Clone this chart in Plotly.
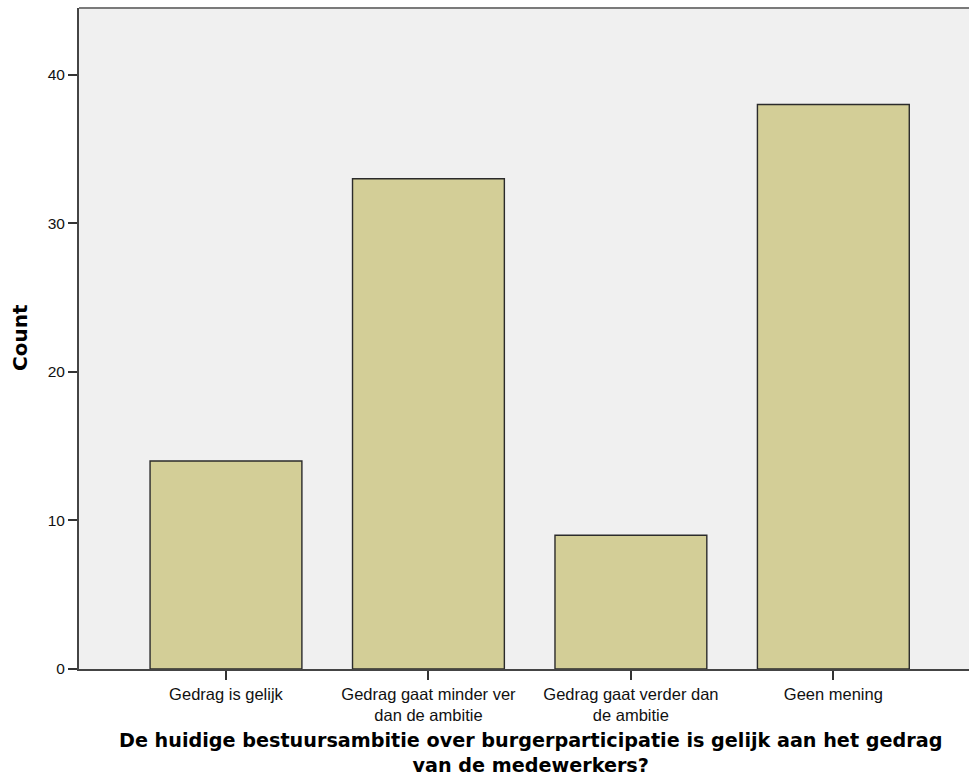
import plotly.graph_objects as go

categories = [
    "Gedrag is gelijk",
    "Gedrag gaat minder ver<br>dan de ambitie",
    "Gedrag gaat verder dan<br>de ambitie",
    "Geen mening",
]
counts = [14, 33, 9, 38]
y_ticks = [0, 10, 20, 30, 40]

y_title = "Count"
x_title_lines = [
    "De huidige bestuursambitie over burgerparticipatie is gelijk aan het gedrag",
    "van de medewerkers?",
]

W, H = 969, 780
M_L, M_R, M_T, M_B = 79, 0, 8, 111
plot_w = W - M_L - M_R
plot_h = H - M_T - M_B


def px_to_paper_x(px):
    return (px - M_L) / plot_w


def px_to_paper_y(py):
    return (H - M_B - py) / plot_h


annotations = [
    dict(text="<b>" + "<br>".join(x_title_lines) + "</b>", xref="paper", yref="paper",
         x=px_to_paper_x(530), y=px_to_paper_y(728),
         xanchor="center", yanchor="top", showarrow=False, align="center",
         borderpad=0,
         font=dict(family="DejaVu Sans, Verdana, sans-serif", size=19.2, color="#000")),
    dict(text="<b>" + y_title + "</b>", xref="paper", yref="paper",
         x=px_to_paper_x(20), y=px_to_paper_y(337),
         xanchor="center", yanchor="middle", showarrow=False, textangle=-90,
         font=dict(family="DejaVu Sans, Verdana, sans-serif", size=20, color="#000")),
]

fig = go.Figure(
    go.Bar(
        x=list(range(len(categories))),
        y=counts,
        width=0.75,
        marker=dict(color="#D3CE97", line=dict(color="#2b2b2b", width=1.4)),
        hoverinfo="skip",
    )
)

fig.update_layout(
    width=W,
    height=H,
    margin=dict(l=M_L, r=M_R, t=M_T, b=M_B),
    paper_bgcolor="white",
    plot_bgcolor="#F0F0F0",
    showlegend=False,
    font=dict(family="Liberation Sans, Arial, sans-serif", size=16, color="#111"),
    shapes=[
        dict(type="line", xref="paper", yref="paper", x0=0, x1=1, y0=1, y1=1,
             line=dict(color="#7a7a7a", width=2)),
    ],
    annotations=annotations,
)

fig.update_xaxes(
    range=[-0.726, 3.67],
    tickmode="array",
    tickvals=list(range(len(categories))),
    ticktext=categories,
    ticks="outside",
    ticklen=9,
    tickwidth=1.5,
    tickcolor="#333",
    showline=True,
    linecolor="#444",
    linewidth=2,
    showgrid=False,
    zeroline=False,
    tickfont=dict(size=16.5, color="#111"),
)

fig.update_yaxes(
    range=[0, 44.5],
    tickmode="array",
    tickvals=y_ticks,
    ticks="outside",
    ticklen=9,
    tickwidth=1.5,
    tickcolor="#333",
    showline=True,
    linecolor="#444",
    linewidth=2,
    showgrid=False,
    zeroline=False,
    tickfont=dict(size=15.5, color="#111"),
)

fig.write_html("out.html")
